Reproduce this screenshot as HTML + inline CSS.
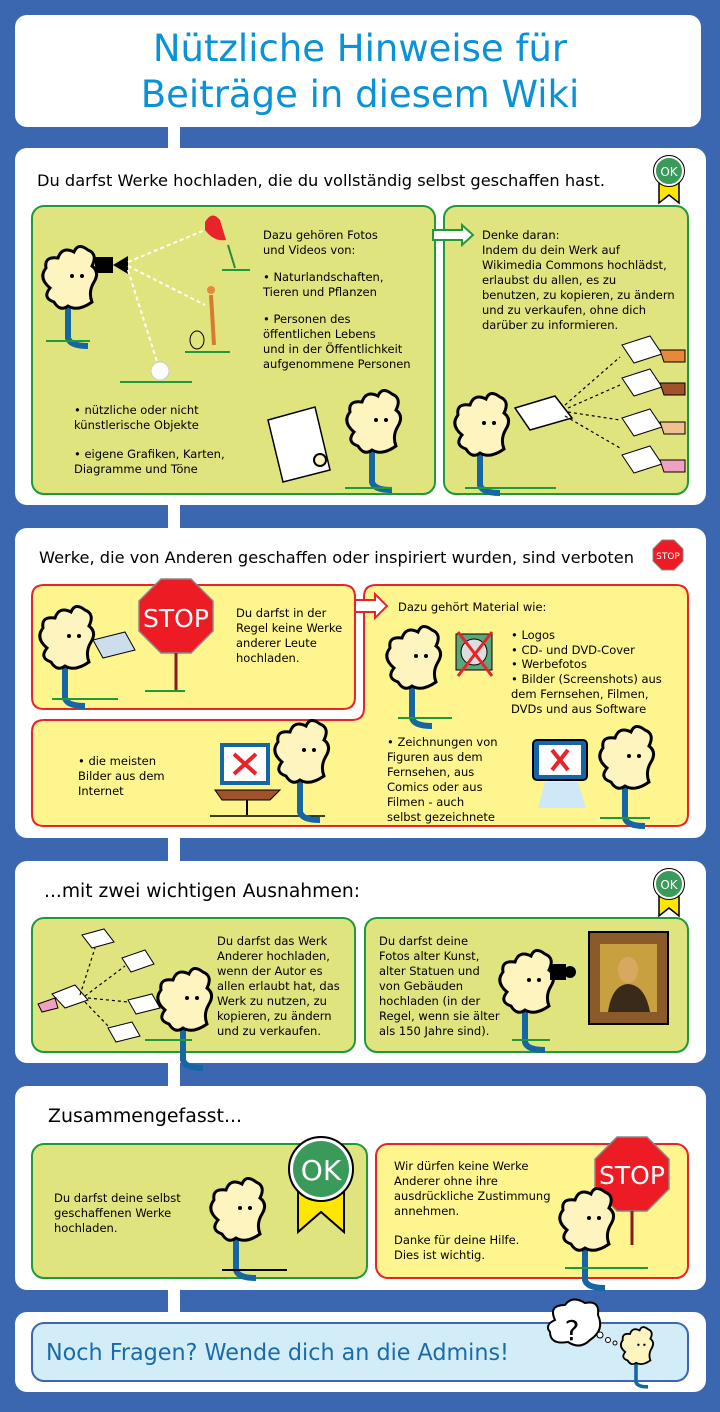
<!DOCTYPE html>
<html><head><meta charset="utf-8"><style>
html,body{margin:0;padding:0;background:#3b67b1;}
svg{display:block;}
text{font-family:"DejaVu Sans","Liberation Sans",sans-serif;}
</style></head><body>
<svg width="720" height="1412" viewBox="0 0 720 1412" xmlns="http://www.w3.org/2000/svg">
<defs>
<g id="fig">
  <path d="M0,40 L0,70 Q2,78 20,78" fill="none" stroke="#1566a3" stroke-width="6"/>
  <path d="M-22,0 Q-24,-12 -10,-10 Q-6,-22 6,-16 Q10,-26 20,-18 Q30,-14 24,-2 Q32,4 26,14 Q20,24 24,34 Q10,44 0,38 Q-8,44 -14,34 Q-26,30 -18,20 Q-30,10 -22,0Z" fill="#fdf4bf" stroke="#000" stroke-width="3"/>
  <circle cx="4" cy="8" r="2" fill="#000"/><circle cx="14" cy="8" r="2" fill="#000"/>
</g>
<g id="ok">
  <path d="M-10,8 L-10,32 L0,24 L10,32 L10,8Z" fill="#ffe600" stroke="#000" stroke-width="1.5"/>
  <circle r="14" fill="#3a9a5a" stroke="#fff" stroke-width="2"/>
  <circle r="15.5" fill="none" stroke="#000" stroke-width="1"/>
  <text y="5" text-anchor="middle" font-size="12" fill="#fff">OK</text>
</g>
</defs>

<rect x="168" y="100" width="12" height="1250" fill="#fff"/>

<rect x="15" y="15" width="686" height="112" rx="12" fill="#fff"/>
<text x="360" y="61" text-anchor="middle" font-size="37" fill="#0a92d6">Nützliche Hinweise für</text>
<text x="360" y="107" text-anchor="middle" font-size="37" fill="#0a92d6">Beiträge in diesem Wiki</text>

<!-- Card 2 -->
<rect x="15" y="148" width="691" height="357" rx="12" fill="#fff"/>
<text x="37" y="186" font-size="16.2" fill="#000" textLength="568" lengthAdjust="spacingAndGlyphs">Du darfst Werke hochladen, die du vollständig selbst geschaffen hast.</text>
<use href="#ok" x="669" y="171"/>
<rect x="32" y="206" width="403" height="288" rx="12" fill="#e0e47f" stroke="#1f9a3a" stroke-width="2"/>
<rect x="444" y="206" width="244" height="288" rx="12" fill="#e0e47f" stroke="#1f9a3a" stroke-width="2"/>
<path d="M433,230 L462,230 L462,225 L473,235 L462,245 L462,240 L433,240Z" fill="#fff" stroke="#1f9a3a" stroke-width="2"/>
<g font-size="11.5" fill="#000">
<text x="263" y="239">Dazu gehören Fotos</text>
<text x="263" y="254">und Videos von:</text>
<text x="263" y="281">• Naturlandschaften,</text>
<text x="263" y="296">Tieren und Pflanzen</text>
<text x="263" y="323">• Personen des</text>
<text x="263" y="338">öffentlichen Lebens</text>
<text x="263" y="353">und in der Öffentlichkeit</text>
<text x="263" y="368">aufgenommene Personen</text>
<text x="74" y="414">• nützliche oder nicht</text>
<text x="74" y="429">künstlerische Objekte</text>
<text x="74" y="458">• eigene Grafiken, Karten,</text>
<text x="74" y="473">Diagramme und Töne</text>
<text x="482" y="239">Denke daran:</text>
<text x="482" y="254">Indem du dein Werk auf</text>
<text x="482" y="269">Wikimedia Commons hochlädst,</text>
<text x="482" y="284">erlaubst du allen, es zu</text>
<text x="482" y="299">benutzen, zu kopieren, zu ändern</text>
<text x="482" y="314">und zu verkaufen, ohne dich</text>
<text x="482" y="329">darüber zu informieren.</text>
</g>
<use href="#fig" x="68" y="268"/>
<line x1="46" y1="341" x2="90" y2="341" stroke="#1f9a3a" stroke-width="2"/>
<rect x="95" y="257" width="18" height="16" fill="#000"/>
<path d="M113,265 L128,256 L128,274Z" fill="#000"/>
<g stroke="#fff" stroke-width="2" stroke-dasharray="4,3" fill="none">
<line x1="128" y1="262" x2="205" y2="230"/><line x1="128" y1="266" x2="205" y2="305"/><line x1="128" y1="270" x2="158" y2="365"/>
</g>
<path d="M205,222 Q212,210 220,220 L226,240 Q214,242 205,230Z" fill="#e8232a"/>
<line x1="228" y1="245" x2="235" y2="268" stroke="#2a8a3a" stroke-width="2"/>
<line x1="222" y1="270" x2="250" y2="270" stroke="#1f9a3a" stroke-width="2"/>
<circle cx="211" cy="290" r="4" fill="#e8883a"/>
<line x1="211" y1="295" x2="214" y2="345" stroke="#d87a30" stroke-width="4"/>
<ellipse cx="197" cy="340" rx="7" ry="9" fill="none" stroke="#000"/>
<line x1="185" y1="352" x2="230" y2="352" stroke="#1f9a3a" stroke-width="2"/>
<circle cx="160" cy="371" r="9" fill="#fff" stroke="#ccc"/>
<line x1="120" y1="382" x2="192" y2="382" stroke="#1f9a3a" stroke-width="2"/>
<path d="M268,420 L315,407 L330,470 L283,482Z" fill="#fff" stroke="#000" stroke-width="1.5"/>
<use href="#fig" x="372" y="412"/>
<circle cx="320" cy="460" r="6" fill="#fdf4bf" stroke="#000" stroke-width="2"/>
<line x1="345" y1="488" x2="392" y2="488" stroke="#1f9a3a" stroke-width="2"/>
<use href="#fig" x="480" y="415"/>
<line x1="465" y1="488" x2="556" y2="488" stroke="#1f9a3a" stroke-width="2"/>
<path d="M515,408 L555,396 L572,418 L530,430Z" fill="#fff" stroke="#000" stroke-width="1.5"/>
<g stroke="#000" stroke-width="1.2" stroke-dasharray="3,3" fill="none">
<line x1="565" y1="405" x2="620" y2="357"/><line x1="568" y1="408" x2="620" y2="385"/><line x1="568" y1="412" x2="620" y2="420"/><line x1="565" y1="416" x2="620" y2="448"/>
</g>
<g fill="#fff" stroke="#000" stroke-width="1">
<path d="M622,345 L650,336 L662,354 L634,363Z"/><path d="M622,378 L650,369 L662,387 L634,396Z"/><path d="M622,418 L650,409 L662,427 L634,436Z"/><path d="M622,455 L650,446 L662,464 L634,473Z"/>
</g>
<g stroke="#000" stroke-width="1"><path d="M660,350 L685,350 L685,362 L664,362Z" fill="#e8883a"/><path d="M660,383 L685,383 L685,395 L664,395Z" fill="#a0522d"/><path d="M660,422 L685,422 L685,434 L664,434Z" fill="#f0c090"/><path d="M660,460 L685,460 L685,472 L664,472Z" fill="#f0a0c0"/></g>

<!-- Card 3 -->
<rect x="15" y="528" width="691" height="310" rx="12" fill="#fff"/>
<text x="39" y="563" font-size="16" fill="#000" textLength="595" lengthAdjust="spacingAndGlyphs">Werke, die von Anderen geschaffen oder inspiriert wurden, sind verboten</text>
<polygon points="662,540 674,540 683,549 683,561 674,570 662,570 653,561 653,549" fill="#ed1c24" stroke="#888"/>
<text x="668" y="559" text-anchor="middle" font-size="9" fill="#fff">STOP</text>
<path d="M44,585 L343,585 Q355,585 355,597 L355,697 Q355,709 343,709 L44,709 Q32,709 32,697 L32,597 Q32,585 44,585Z" fill="#fff58f" stroke="#e8232a" stroke-width="2"/>
<path d="M376,585 L676,585 Q688,585 688,597 L688,814 Q688,826 676,826 L44,826 Q32,826 32,814 L32,732 Q32,720 44,720 L352,720 Q364,720 364,708 L364,597 Q364,585 376,585Z" fill="#fff58f" stroke="#e8232a" stroke-width="2"/>
<path d="M355,600 L375,600 L375,594 L387,606 L375,618 L375,612 L355,612Z" fill="#fff" stroke="#e8232a" stroke-width="2"/>
<polygon points="161,579 191,579 213,601 213,631 191,653 161,653 139,631 139,601" fill="#ed1c24" stroke="#888" stroke-width="1.5"/>
<text x="176" y="627" text-anchor="middle" font-size="25" fill="#fff">STOP</text>
<line x1="176" y1="653" x2="176" y2="690" stroke="#8b1a1a" stroke-width="3"/>
<line x1="145" y1="691" x2="185" y2="691" stroke="#1f9a3a" stroke-width="2"/>
<use href="#fig" x="65" y="628"/>
<line x1="52" y1="699" x2="118" y2="699" stroke="#1f9a3a" stroke-width="2"/>
<path d="M93,640 L125,632 L135,650 L103,658Z" fill="#cde" stroke="#000"/>
<g font-size="11.5" fill="#000">
<text x="236" y="617">Du darfst in der</text>
<text x="236" y="632">Regel keine Werke</text>
<text x="236" y="647">anderer Leute</text>
<text x="236" y="662">hochladen.</text>
<text x="398" y="611">Dazu gehört Material wie:</text>
<text x="511" y="639">• Logos</text>
<text x="511" y="654">• CD- und DVD-Cover</text>
<text x="511" y="668">• Werbefotos</text>
<text x="511" y="683">• Bilder (Screenshots) aus</text>
<text x="511" y="698">dem Fernsehen, Filmen,</text>
<text x="511" y="713">DVDs und aus Software</text>
<text x="387" y="746">• Zeichnungen von</text>
<text x="387" y="761">Figuren aus dem</text>
<text x="387" y="776">Fernsehen, aus</text>
<text x="387" y="791">Comics oder aus</text>
<text x="387" y="806">Filmen - auch</text>
<text x="387" y="821">selbst gezeichnete</text>
<text x="78" y="765">• die meisten</text>
<text x="78" y="780">Bilder aus dem</text>
<text x="78" y="795">Internet</text>
</g>
<use href="#fig" x="412" y="648"/>
<line x1="398" y1="718" x2="452" y2="718" stroke="#1f9a3a" stroke-width="2"/>
<rect x="456" y="634" width="36" height="36" fill="#5aa87a" stroke="#000"/>
<circle cx="474" cy="652" r="13" fill="#ddd" stroke="#000"/>
<line x1="458" y1="632" x2="492" y2="676" stroke="#e8232a" stroke-width="3"/><line x1="492" y1="632" x2="458" y2="676" stroke="#e8232a" stroke-width="3"/>
<rect x="222" y="745" width="46" height="38" fill="#fff" stroke="#1566a3" stroke-width="4"/>
<path d="M234,754 L256,774 M256,754 L234,774" stroke="#e8232a" stroke-width="4"/>
<path d="M215,790 L280,790 L270,800 L222,800Z" fill="#a0522d" stroke="#000"/>
<line x1="247" y1="800" x2="247" y2="815" stroke="#000" stroke-width="2"/>
<line x1="210" y1="816" x2="325" y2="816" stroke="#000" stroke-width="1.5"/>
<use href="#fig" x="300" y="742"/>
<rect x="533" y="740" width="54" height="40" rx="4" fill="#1566a3" stroke="#000" stroke-width="2"/>
<rect x="539" y="745" width="42" height="30" fill="#fff"/>
<path d="M552,750 L568,770 M568,750 L552,770" stroke="#e8232a" stroke-width="4"/>
<path d="M545,782 L578,782 L586,808 L538,808Z" fill="#cfe8f7"/>
<use href="#fig" x="625" y="748"/>
<line x1="600" y1="818" x2="650" y2="818" stroke="#1f9a3a" stroke-width="2"/>

<!-- Card 4 -->
<rect x="15" y="861" width="691" height="202" rx="12" fill="#fff"/>
<text x="44" y="897" font-size="18.5" fill="#000" textLength="316" lengthAdjust="spacingAndGlyphs">...mit zwei wichtigen Ausnahmen:</text>
<use href="#ok" x="669" y="884"/>
<rect x="32" y="918" width="323" height="134" rx="12" fill="#e0e47f" stroke="#1f9a3a" stroke-width="2"/>
<rect x="365" y="918" width="323" height="134" rx="12" fill="#e0e47f" stroke="#1f9a3a" stroke-width="2"/>
<g font-size="11.5" fill="#000">
<text x="217" y="945">Du darfst das Werk</text>
<text x="217" y="960">Anderer hochladen,</text>
<text x="217" y="975">wenn der Autor es</text>
<text x="217" y="990">allen erlaubt hat, das</text>
<text x="217" y="1005">Werk zu nutzen, zu</text>
<text x="217" y="1020">kopieren, zu ändern</text>
<text x="217" y="1035">und zu verkaufen.</text>
<text x="379" y="945">Du darfst deine</text>
<text x="379" y="960">Fotos alter Kunst,</text>
<text x="379" y="975">alter Statuen und</text>
<text x="379" y="990">von Gebäuden</text>
<text x="379" y="1005">hochladen (in der</text>
<text x="379" y="1020">Regel, wenn sie älter</text>
<text x="379" y="1035">als 150 Jahre sind).</text>
</g>
<g fill="#fff" stroke="#000" stroke-width="1"><path d="M52,994 L75,985 L88,1000 L65,1008Z"/><path d="M82,935 L104,929 L114,942 L92,948Z"/><path d="M122,958 L145,950 L154,964 L131,972Z"/><path d="M128,1000 L152,994 L160,1008 L136,1014Z"/><path d="M108,1028 L132,1022 L140,1036 L116,1042Z"/></g>
<g stroke="#000" stroke-width="1.2" stroke-dasharray="3,3" fill="none"><line x1="80" y1="995" x2="95" y2="948"/><line x1="85" y1="996" x2="125" y2="966"/><line x1="88" y1="998" x2="128" y2="1002"/><line x1="85" y1="1002" x2="110" y2="1028"/></g>
<path d="M38,1004 L55,998 L58,1008 L42,1012Z" fill="#f0a0c0" stroke="#000"/>
<use href="#fig" x="183" y="990"/>
<line x1="145" y1="1040" x2="192" y2="1040" stroke="#1f9a3a" stroke-width="2"/>
<use href="#fig" x="525" y="972"/>
<line x1="512" y1="1040" x2="550" y2="1040" stroke="#1f9a3a" stroke-width="2"/>
<rect x="550" y="964" width="16" height="16" fill="#000"/><circle cx="570" cy="972" r="6" fill="#000"/>
<rect x="589" y="932" width="79" height="92" fill="#8b5a2b" stroke="#000" stroke-width="2"/>
<rect x="600" y="944" width="57" height="68" fill="#c8a040"/>
<ellipse cx="628" cy="970" rx="10" ry="13" fill="#d8a860"/>
<path d="M608,1012 Q612,985 628,984 Q645,985 650,1012Z" fill="#3a2a1a"/>

<!-- Card 5 -->
<rect x="15" y="1086" width="691" height="204" rx="12" fill="#fff"/>
<text x="48" y="1122" font-size="18.5" fill="#000" textLength="194" lengthAdjust="spacingAndGlyphs">Zusammengefasst...</text>
<rect x="32" y="1144" width="335" height="134" rx="12" fill="#e0e47f" stroke="#1f9a3a" stroke-width="2"/>
<rect x="376" y="1144" width="312" height="134" rx="12" fill="#fff58f" stroke="#e8232a" stroke-width="2"/>
<g font-size="11.5" fill="#000">
<text x="54" y="1202">Du darfst deine selbst</text>
<text x="54" y="1217">geschaffenen Werke</text>
<text x="54" y="1232">hochladen.</text>
<text x="394" y="1170">Wir dürfen keine Werke</text>
<text x="394" y="1185">Anderer ohne ihre</text>
<text x="394" y="1200">ausdrückliche Zustimmung</text>
<text x="394" y="1215">annehmen.</text>
<text x="394" y="1244">Danke für deine Hilfe.</text>
<text x="394" y="1259">Dies ist wichtig.</text>
</g>
<path d="M298,1188 L298,1232 L321,1212 L344,1232 L344,1188Z" fill="#ffe600" stroke="#000" stroke-width="2"/>
<circle cx="321" cy="1169" r="32" fill="#fff" stroke="#000" stroke-width="2"/>
<circle cx="321" cy="1169" r="28" fill="#3a9a5a"/>
<text x="321" y="1180" text-anchor="middle" font-size="28" fill="#fff">OK</text>
<use href="#fig" x="236" y="1200"/>
<line x1="222" y1="1270" x2="287" y2="1270" stroke="#000" stroke-width="2"/>
<polygon points="617,1137 647,1137 669,1159 669,1189 647,1211 617,1211 595,1189 595,1159" fill="#ed1c24" stroke="#888" stroke-width="1.5"/>
<text x="632" y="1184" text-anchor="middle" font-size="25" fill="#fff">STOP</text>
<line x1="632" y1="1211" x2="632" y2="1245" stroke="#8b1a1a" stroke-width="3"/>
<use href="#fig" x="585" y="1210"/>
<line x1="565" y1="1268" x2="648" y2="1268" stroke="#1f9a3a" stroke-width="2"/>

<!-- Card 6 -->
<rect x="15" y="1312" width="691" height="80" rx="12" fill="#fff"/>
<rect x="32" y="1323" width="656" height="58" rx="12" fill="#d3edf8" stroke="#3b67b1" stroke-width="2"/>
<text x="46" y="1360" font-size="23" fill="#1a6bab" textLength="463" lengthAdjust="spacingAndGlyphs">Noch Fragen? Wende dich an die Admins!</text>
<path d="M555,1320 Q548,1305 565,1305 Q572,1295 585,1303 Q600,1300 598,1315 Q605,1330 590,1340 Q580,1350 568,1342 Q550,1345 550,1332 Q544,1325 555,1320Z" fill="#fff" stroke="#000" stroke-width="2"/>
<text x="572" y="1340" text-anchor="middle" font-size="28" fill="#000">?</text>
<circle cx="600" cy="1335" r="3" fill="#fff" stroke="#000"/><circle cx="608" cy="1340" r="2.5" fill="#fff" stroke="#000"/><circle cx="615" cy="1343" r="2" fill="#fff" stroke="#000"/>
<g transform="translate(636,1340) scale(0.6)"><use href="#fig"/></g>
</svg>
</body></html>
